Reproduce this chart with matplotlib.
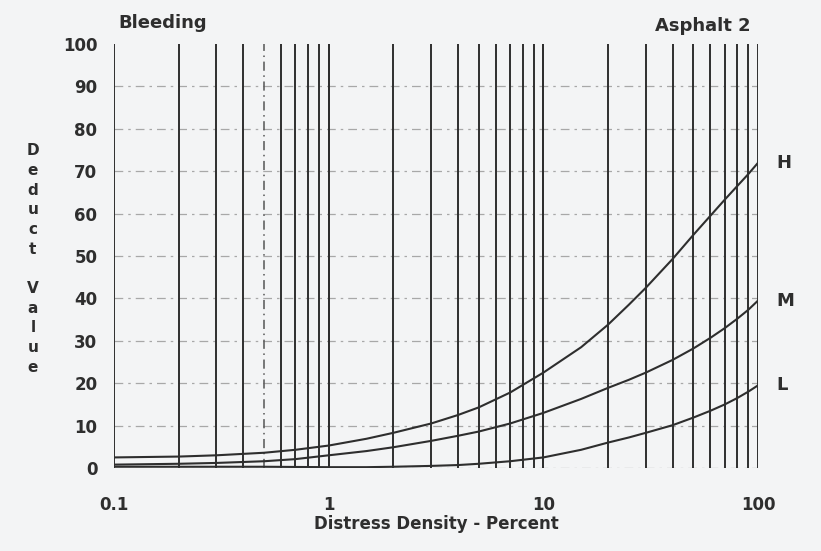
import numpy as np
import matplotlib
matplotlib.use("Agg")
import matplotlib.pyplot as plt

# Deduct value curves for bleeding, read at these densities (percent)
density = [0.1, 0.2, 0.3, 0.5, 0.7, 1, 1.5, 2, 3, 4, 5, 7, 10,
           15, 20, 25, 30, 40, 50, 60, 70, 80, 90, 100]
high = [2.5, 2.7, 3.0, 3.6, 4.3, 5.3, 6.9, 8.3, 10.5, 12.5, 14.3, 17.8, 22.5,
        28.5, 33.8, 38.5, 42.5, 49.3, 55.0, 59.5, 63.3, 66.5, 69.3, 72.0]
medium = [0.8, 1.0, 1.2, 1.6, 2.1, 3.0, 4.0, 4.9, 6.4, 7.6, 8.6, 10.5, 13.0,
          16.3, 18.9, 20.8, 22.5, 25.5, 28.2, 30.7, 33.0, 35.2, 37.3, 39.5]
low = [0.3, 0.3, 0.3, 0.3, 0.25, 0.2, 0.2, 0.3, 0.5, 0.7, 1.0, 1.6, 2.5,
       4.3, 6.0, 7.2, 8.3, 10.1, 11.9, 13.5, 15.0, 16.5, 18.0, 19.5]
severity = ["H", "M", "L"]

x_ticks = [0.1, 1, 10, 100]
x_tick_labels = ["0.1", "1", "10", "100"]
y_ticks = list(range(0, 101, 10))

plt.rcParams["font.family"] = ["DejaVu Sans"]
plt.rcParams["font.weight"] = "bold"
plt.rcParams["axes.labelweight"] = "bold"

ink = "#2e2e2e"
paper = "#f3f4f5"

fig = plt.figure(figsize=(8.21, 5.51), dpi=100, facecolor=paper)
ax = fig.add_axes([0.1389, 0.1506, 0.7844, 0.7695])
ax.set_facecolor(paper)
ax.set_xscale("log")
ax.set_xlim(0.1, 100)
ax.set_ylim(0, 100)

# log paper: a line at every unit of each decade
for decade in [0.1, 1, 10]:
    for k in range(1, 11):
        xv = decade * k
        if xv == 0.5:
            ax.axvline(xv, color="#555555", lw=1.1, ls=(0, (6, 3, 1, 3)), zorder=2)
        else:
            ax.axvline(xv, color=ink, lw=1.4, zorder=2)

for yv in y_ticks[:-1]:
    ax.axhline(yv, color="#a8a8a8", lw=0.9, ls=(0, (7, 4, 2, 4)), zorder=1)

for ys, name in zip([high, medium, low], severity):
    ax.plot(density, ys, color=ink, lw=1.5, zorder=3)
    ax.annotate(name, (density[-1], ys[-1]), xytext=(13, 0),
                textcoords="offset points", ha="left", va="center",
                fontsize=13, color=ink)

for s in ax.spines.values():
    s.set_visible(False)

ax.set_xticks(x_ticks)
ax.set_xticklabels(x_tick_labels)
ax.xaxis.set_minor_locator(matplotlib.ticker.NullLocator())
ax.set_yticks(y_ticks)
ax.tick_params(length=0, labelsize=12, labelcolor=ink)
ax.tick_params(axis="x", pad=20)
ax.tick_params(axis="y", pad=12)

ax.set_xlabel("Distress Density - Percent", fontsize=12, color=ink, labelpad=1)

fig.text(0.1985, 0.958, "Bleeding", fontsize=13, color=ink, ha="center", va="center")
fig.text(0.856, 0.952, "Asphalt 2", fontsize=13, color=ink, ha="center", va="center")
fig.text(0.040, 0.740, "\n".join("Deduct Value"), fontsize=11, color=ink,
         ha="center", va="top", linespacing=1.39)

fig.savefig("out.png", dpi=100, facecolor=paper)
